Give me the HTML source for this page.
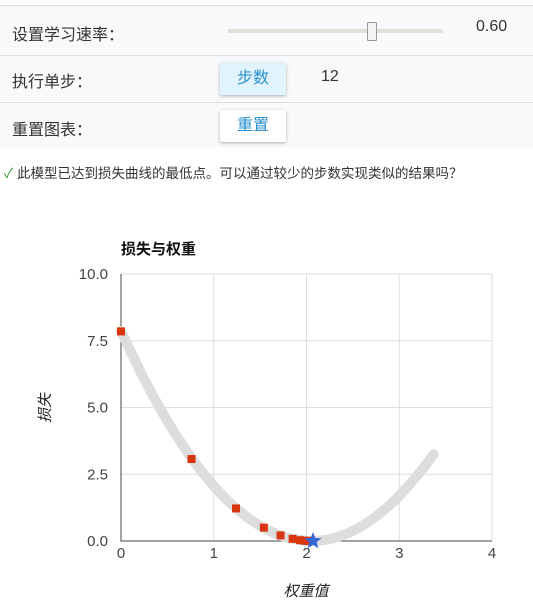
<!DOCTYPE html>
<html><head><meta charset="utf-8">
<style>
body{margin:0;width:533px;height:601px;background:#fff;font-family:"Liberation Sans","Noto Sans CJK SC",sans-serif;color:#333;position:relative;overflow:hidden}
.row{position:absolute;left:0;width:533px;background:#f8f9fa;border-top:1px solid #ddd}
.lbl{position:absolute;left:12px;font-size:16px;color:#333}
.btn{position:absolute;left:220px;width:66px;height:32px;font-size:16px;text-align:center;line-height:32px;box-shadow:0 1px 3px rgba(0,0,0,.3);border-radius:2px;color:#2a8fce}
</style></head><body>
<div class="row" style="top:5px;height:49px">
 <span class="lbl" style="top:15px">设置学习速率：</span>
 <div style="position:absolute;left:228px;top:23px;width:215px;height:4px;background:#e2dfdb;border-radius:2px"></div>
 <div style="position:absolute;left:367px;top:16px;width:8px;height:17px;background:#f4f4f4;border:1px solid #999;border-radius:1px"></div>
 <span style="position:absolute;left:476px;top:12px;font-size:16px">0.60</span>
</div>
<div class="row" style="top:55px;height:46px">
 <span class="lbl" style="top:12px">执行单步：</span>
 <div class="btn" style="top:7px;background:#e1f3fc">步数</div>
 <span style="position:absolute;left:321px;top:12px;font-size:16px">12</span>
</div>
<div class="row" style="top:102px;height:45px">
 <span class="lbl" style="top:13px">重置图表：</span>
 <div class="btn" style="top:7px;background:#fff">重置</div>
</div>
<div style="position:absolute;left:4px;top:162px;font-size:13.5px;color:#333"><span style="color:#3a9a3a">✓</span> 此模型已达到损失曲线的最低点。可以通过较少的步数实现类似的结果吗？</div>
<svg id="chart" style="position:absolute;left:0;top:0" width="533" height="601"></svg>
<script>
const curveW=[0,0.25,0.5,0.75,1,1.25,1.5,1.75,2,2.05,2.25,2.5,2.75,3,3.25,3.37];
const curveL=[7.86,6.06,4.49,3.16,2.06,1.20,0.57,0.17,0.005,0,0.07,0.38,0.92,1.69,2.69,3.25];
const stepW=[0,0.76,1.24,1.54,1.72,1.85,1.93,1.98,2.01,2.03,2.04];
const stepL=[7.85,3.07,1.22,0.5,0.21,0.08,0.03,0.01,0.005,0.002,0.001];
const starW=2.07, starL=0.0;
const xTicks=[0,1,2,3,4];
const yTicks=[0,2.5,5,7.5,10];
const yTickLabels=["0.0","2.5","5.0","7.5","10.0"];
const svg=document.getElementById('chart');const NS='http://www.w3.org/2000/svg';
const X=v=>121+v*92.75, Y=v=>541-v*26.7;
function mk(t,a,p){const e=document.createElementNS(NS,t);for(const k in a)e.setAttribute(k,a[k]);(p||svg).appendChild(e);return e;}
xTicks.forEach((t,i)=>{if(t>0){const l=mk('line',{x1:X(t),x2:X(t),y1:Y(10),y2:Y(0),stroke:'#ddd'});

}
const tx=mk('text',{x:X(t),y:558,'text-anchor':'middle','font-size':15,fill:'#444'});tx.textContent=t;

});
yTicks.forEach((t,i)=>{if(t>0){const l=mk('line',{x1:X(0),x2:X(4),y1:Y(t),y2:Y(t),stroke:'#ddd'});

}
const tx=mk('text',{x:108,y:Y(t)+5,'text-anchor':'end','font-size':15,fill:'#444'});tx.textContent=yTickLabels[i];

});
const ax=mk('path',{d:`M${X(0)},${Y(10)}V${Y(0)}H${X(4)}`,stroke:'#444',fill:'none'});


const P=curveW.map((w,i)=>[X(w),Y(curveL[i])]);
let d=`M${P[0][0]},${P[0][1]}`;
for(let i=0;i<P.length-1;i++){const p0=P[Math.max(0,i-1)],p1=P[i],p2=P[i+1],p3=P[Math.min(P.length-1,i+2)];
d+=` C${p1[0]+(p2[0]-p0[0])/6},${p1[1]+(p2[1]-p0[1])/6} ${p2[0]-(p3[0]-p1[0])/6},${p2[1]-(p3[1]-p1[1])/6} ${p2[0]},${p2[1]}`;}
const cv=mk('path',{d:d,fill:'none',stroke:'#ddd','stroke-width':10,'stroke-linecap':'round','stroke-linejoin':'round'});


stepW.forEach((w,i)=>{const r=mk('rect',{x:X(w)-4,y:Y(stepL[i])-4,width:8,height:8,fill:'#d9360f'});

});
const cx=X(starW),cy=Y(starL);let pts=[];for(let i=0;i<10;i++){const r=i%2?3.8:9,a=-Math.PI/2+i*Math.PI/5;pts.push((cx+r*Math.cos(a))+','+(cy+r*Math.sin(a)));}
const st=mk('polygon',{points:pts.join(' '),fill:'#3367d6'});


const ti=mk('text',{x:121,y:254,'font-size':15,'font-weight':'bold',fill:'#111'});ti.textContent='损失与权重';


const yt=mk('text',{x:0,y:0,'font-size':15,'font-style':'italic',fill:'#222','text-anchor':'middle',transform:'translate(50,408) rotate(-90)'});yt.textContent='损失';


const xt=mk('text',{x:306,y:596,'font-size':15,'font-style':'italic',fill:'#222','text-anchor':'middle'});xt.textContent='权重值';


</script>
</body></html>
